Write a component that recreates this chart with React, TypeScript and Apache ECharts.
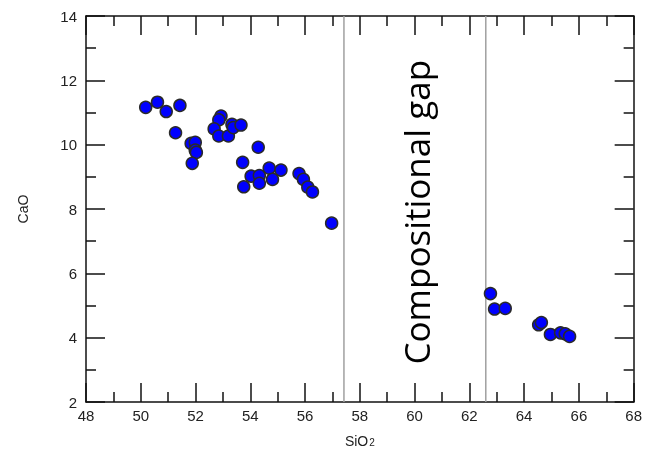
import React, { useEffect, useRef } from "react";
import * as echarts from "echarts";

const sio2 = [
  50.18, 50.61, 50.93, 51.43, 51.27, 51.84, 51.99, 51.99, 52.03, 51.88,
  52.93, 52.85, 52.68, 52.85, 53.2, 53.33, 53.38, 53.66, 54.29, 53.72,
  53.76, 54.03, 54.33, 54.33, 54.69, 54.81, 55.12, 55.78, 55.94, 56.1,
  56.27, 56.97,
  62.77, 62.92, 63.31, 64.53, 64.63, 64.96, 65.33, 65.5, 65.66,
];
const cao = [
  11.16, 11.32, 11.03, 11.22, 10.37, 10.04, 10.07, 9.83, 9.76, 9.42,
  10.89, 10.77, 10.49, 10.27, 10.27, 10.63, 10.53, 10.61, 9.92, 9.45,
  8.69, 9.02, 9.04, 8.8, 9.27, 8.92, 9.21, 9.1, 8.92, 8.68,
  8.53, 7.56,
  5.37, 4.89, 4.91, 4.4, 4.47, 4.1, 4.15, 4.12, 4.04,
];
const gapBounds = [57.42, 62.6];
const xMin = 48, xMax = 68, xInterval = 2;
const yMin = 2, yMax = 14, yInterval = 2;
const gapLabel = "Compositional gap";
const gapLabelPos = [60, 7.9];

const W = 645, H = 460;
const GRID = { left: 86, right: 9, top: 16, bottom: 58 };
const font = "'Liberation Sans', Arial, sans-serif";

function axisStyle() {
  return {
    axisLine: { show: true, onZero: false, lineStyle: { color: "#111", width: 1.5 } },
    axisTick: { show: true, inside: true, length: 19, lineStyle: { color: "#111", width: 1.5 } },
    minorTick: { show: true, splitNumber: 2, length: 10, lineStyle: { color: "#111", width: 1.5 } },
    splitLine: { show: false },
    minorSplitLine: { show: false },
  };
}

export default function App() {
  const ref = useRef<HTMLDivElement>(null);
  useEffect(() => {
    if (!ref.current) return;
    const chart = echarts.init(ref.current, null, { renderer: "svg" });
    const data = sio2.map((x, i) => [x, cao[i]]);
    const plotW = W - GRID.left - GRID.right;
    const plotH = H - GRID.top - GRID.bottom;
    const gx = GRID.left + ((gapLabelPos[0] - xMin) / (xMax - xMin)) * plotW;
    const gy = GRID.top + ((yMax - gapLabelPos[1]) / (yMax - yMin)) * plotH;
    chart.setOption({
      animation: false,
      grid: GRID,
      xAxis: [
        {
          type: "value",
          min: xMin, max: xMax, interval: xInterval,
          position: "bottom",
          name: "{a|SiO}{b|2}",
          nameLocation: "middle",
          nameGap: 26,
          nameTextStyle: {
            rich: {
              a: { fontFamily: font, fontSize: 14, color: "#222", lineHeight: 14, verticalAlign: "top" },
              b: { fontFamily: font, fontSize: 10, color: "#222", lineHeight: 10, verticalAlign: "bottom", padding: [10, 0, 0, 1] },
            },
          },
          axisLabel: { fontFamily: font, fontSize: 15, color: "#222", margin: 6 },
          ...axisStyle(),
        },
        {
          type: "value",
          min: xMin, max: xMax, interval: xInterval,
          position: "top",
          axisLabel: { show: false },
          ...axisStyle(),
        },
      ],
      yAxis: [
        {
          type: "value",
          min: yMin, max: yMax, interval: yInterval,
          position: "left",
          name: "CaO",
          nameLocation: "middle",
          nameGap: 56,
          nameTextStyle: { fontFamily: font, fontSize: 14, color: "#222" },
          axisLabel: { fontFamily: font, fontSize: 15, color: "#222", margin: 9 },
          ...axisStyle(),
        },
        {
          type: "value",
          min: yMin, max: yMax, interval: yInterval,
          position: "right",
          axisLabel: { show: false },
          ...axisStyle(),
        },
      ],
      series: [
        ...gapBounds.map((v) => ({
          type: "line",
          data: [[v, yMin], [v, yMax]],
          symbol: "none",
          silent: true,
          lineStyle: { color: "#a0a0a0", width: 1.5 },
          z: 1,
        })),
        {
          type: "scatter",
          data,
          symbol: "circle",
          symbolSize: 12,
          itemStyle: { color: "#0000ff", borderColor: "#2a2a2a", borderWidth: 1.5, opacity: 1 },
          z: 5,
        },
      ],
      graphic: [
        {
          type: "text",
          x: gx,
          y: gy,
          rotation: Math.PI / 2,
          style: {
            text: gapLabel,
            fontFamily: "'Open Sans', 'Noto Sans', sans-serif",
            fontSize: 35,
            fill: "#000",
            align: "center",
            verticalAlign: "middle",
          },
        },
      ],
    });
    return () => chart.dispose();
  }, []);
  return (
    <div
      ref={ref}
      style={{ position: "fixed", left: 0, top: 0, width: W, height: H }}
    />
  );
}
